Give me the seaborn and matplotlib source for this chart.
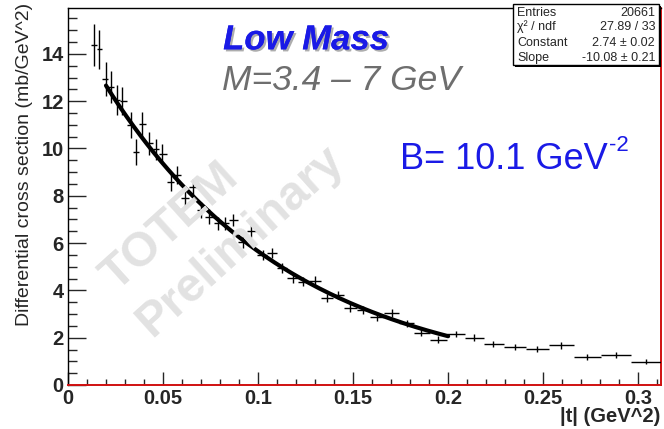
import numpy as np
import matplotlib
matplotlib.use("Agg")
import matplotlib.pyplot as plt
import matplotlib.patheffects as pe
from matplotlib.ticker import MultipleLocator
from matplotlib.patches import Rectangle
import seaborn as sns

# data
t_vals = [0.0137, 0.0165, 0.0198, 0.0226, 0.0256, 0.0286, 0.0332, 0.0356, 0.0391,
          0.0428, 0.0462, 0.0496, 0.0542, 0.0575, 0.0616, 0.0656, 0.0700, 0.0744,
          0.0788, 0.0826, 0.0870, 0.0920, 0.0963, 0.1025, 0.1072, 0.1125, 0.1183,
          0.1235, 0.1300, 0.1362, 0.1423, 0.1482, 0.1554, 0.1624, 0.1703, 0.1784,
          0.1858, 0.1946, 0.2042, 0.2137, 0.2238, 0.2351, 0.2468, 0.2596, 0.2730,
          0.2883, 0.3042]
dsigma = [14.38, 14.19, 12.92, 12.60, 12.05, 12.00, 11.00, 9.86, 11.02,
          10.22, 9.97, 9.77, 8.60, 8.88, 7.90, 8.37, 7.40, 7.12,
          6.84, 6.84, 6.98, 6.06, 6.51, 5.50, 5.57, 4.93, 4.51,
          4.37, 4.41, 3.67, 3.81, 3.26, 3.17, 2.88, 3.04, 2.61,
          2.20, 1.92, 2.16, 2.00, 1.73, 1.61, 1.51, 1.67, 1.20,
          1.27, 0.99]
dsigma_err = [0.90, 0.82, 0.72, 0.66, 0.64, 0.60, 0.56, 0.55, 0.52,
              0.48, 0.45, 0.44, 0.40, 0.38, 0.36, 0.34, 0.32, 0.30,
              0.28, 0.27, 0.26, 0.25, 0.24, 0.22, 0.22, 0.21, 0.20,
              0.19, 0.19, 0.18, 0.18, 0.17, 0.17, 0.16, 0.16, 0.15,
              0.15, 0.15, 0.14, 0.14, 0.14, 0.13, 0.13, 0.13, 0.13,
              0.12, 0.12]

# exponential fit from the stats box
fit_const = 2.74
fit_slope = -10.08
fit_range = (0.02, 0.2)

x_ticks = [0, 0.05, 0.1, 0.15, 0.2, 0.25, 0.3]
x_ticklabels = ["0", "0.05", "0.1", "0.15", "0.2", "0.25", "0.3"]
y_ticks = [0, 2, 4, 6, 8, 10, 12, 14]

stats_rows = [("Entries", "20661"),
              ("\u03c7\u00b2 / ndf", "27.89 / 33"),
              ("Constant", "2.74 \u00b1 0.02"),
              ("Slope", "-10.08 \u00b1 0.21")]

sns.set_style("white")
plt.rcParams['font.family'] = ['Liberation Sans', 'DejaVu Sans']

fig = plt.figure(figsize=(6.64, 4.29), dpi=100)
ax = fig.add_axes([0.1024, 0.1026, 0.8931, 0.8788])

# bin half widths from neighbouring bin centres
t = np.array(t_vals)
edges = np.concatenate([[t[0] - (t[1] - t[0]) / 2], (t[1:] + t[:-1]) / 2,
                        [t[-1] + (t[-1] - t[-2]) / 2]])
xerr = [t - edges[:-1], edges[1:] - t]

ax.errorbar(t_vals, dsigma, yerr=dsigma_err, xerr=xerr, fmt='none',
            ecolor='black', elinewidth=1.0, capsize=0, zorder=3)

tf = np.linspace(fit_range[0], fit_range[1], 200)
sns.lineplot(x=tf, y=np.exp(fit_const + fit_slope * tf), ax=ax,
             color='black', linewidth=3.0, zorder=4)

ax.set_xlim(0, 0.312)
ax.set_ylim(0, 15.94)
ax.set_xticks(x_ticks)
ax.set_xticklabels(x_ticklabels)
ax.set_yticks(y_ticks)
ax.xaxis.set_minor_locator(MultipleLocator(0.01))
ax.yaxis.set_minor_locator(MultipleLocator(0.5))
ax.tick_params(axis='x', which='major', direction='in', length=9.5, width=1,
               pad=3, labelsize=14.5, bottom=True, top=False)
ax.tick_params(axis='x', which='minor', direction='in', length=4.5, width=1,
               bottom=True, top=False)
ax.tick_params(axis='y', which='major', direction='in', length=13, width=1,
               pad=3, labelsize=14.5, left=True, right=False)
ax.tick_params(axis='y', which='minor', direction='in', length=6.5, width=1,
               left=True, right=False)
for lab in ax.get_xticklabels() + ax.get_yticklabels():
    lab.set_fontweight('bold')

for side in ['left', 'top']:
    ax.spines[side].set_color('black')
    ax.spines[side].set_linewidth(1.0)
for side in ['bottom', 'right']:
    ax.spines[side].set_color('#d01010')
    ax.spines[side].set_linewidth(1.4)

ax.set_ylabel("Differential cross section (mb/GeV^2)", fontsize=14)
ax.yaxis.set_label_coords(-0.059, 1.013)
ax.yaxis.label.set_horizontalalignment('right')
fig.text(0.994, 0.008, "|t| (GeV^2)", ha='right', va='bottom',
         fontsize=14.5, fontweight='bold')

# watermark
wm = dict(fontsize=34.5, fontweight='bold', color='#e2e2e2', rotation=42,
          rotation_mode='anchor', ha='left', va='baseline', zorder=1)
fig.text(0.176, 0.319, "TOTEM", **wm)
fig.text(0.229, 0.212, "Preliminary", **wm)

# labels in the plot
fig.text(0.336, 0.885, "Low Mass", fontsize=25, fontweight='bold',
         fontstyle='italic', color='#1a1ae6',
         path_effects=[pe.withSimplePatchShadow(offset=(1.5, -1.5),
                                                shadow_rgbFace='#999999',
                                                alpha=0.8), pe.Normal()])
fig.text(0.334, 0.79, "M=3.4 \u2013 7 GeV", fontsize=25.5, fontstyle='italic',
         color='#6e6e6e')
fig.text(0.602, 0.605, "B= 10.1 GeV", fontsize=26, color='#1a1ae6')
fig.text(0.917, 0.648, "-2", fontsize=16, color='#1a1ae6')

# stats box
bx0, by0, bw, bh = 513 / 664, 1 - 65 / 429, 146 / 664, 61 / 429
fig.patches.append(Rectangle((bx0 + 2 / 664, by0 - 2 / 429), bw, bh,
                             transform=fig.transFigure, facecolor='black',
                             edgecolor='none', zorder=5))
fig.patches.append(Rectangle((bx0, by0), bw, bh, transform=fig.transFigure,
                             facecolor='white', edgecolor='black', lw=1,
                             zorder=6))
row_y = [13, 27, 43, 58]
for (lab, val), py in zip(stats_rows, row_y):
    fig.text(517 / 664, 1 - py / 429, lab, fontsize=9, ha='left',
             va='center', zorder=7)
    fig.text(655 / 664, 1 - py / 429, val, fontsize=9, ha='right',
             va='center', zorder=7)

fig.savefig("out.png", dpi=100, facecolor='white')
